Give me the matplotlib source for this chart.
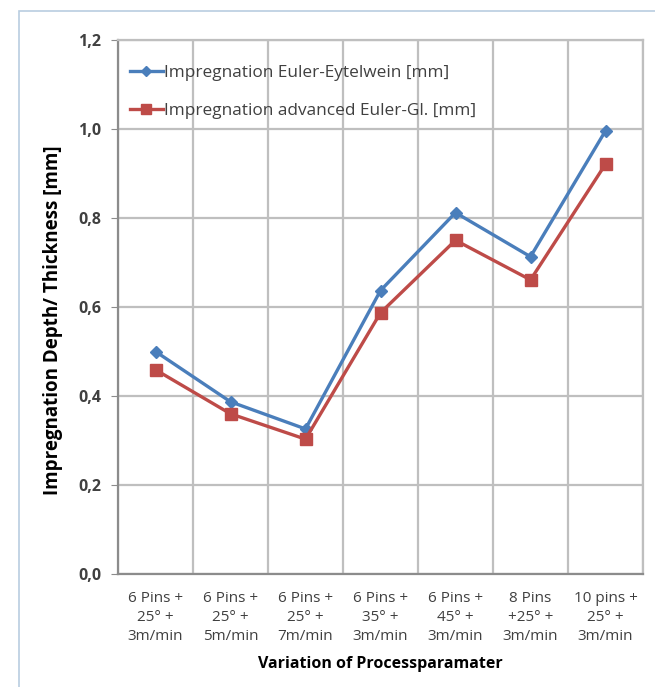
import numpy as np
import matplotlib.pyplot as plt
from matplotlib.patches import Rectangle
from matplotlib.ticker import FuncFormatter, MultipleLocator

plt.rcParams['font.family'] = ['Open Sans', 'DejaVu Sans']

# data
categories = ["6 Pins +\n25° +\n3m/min", "6 Pins +\n25° +\n5m/min", "6 Pins +\n25° +\n7m/min",
              "6 Pins +\n35° +\n3m/min", "6 Pins +\n45° +\n3m/min", "8 Pins\n+25° +\n3m/min",
              "10 pins +\n25° +\n3m/min"]
euler = [0.50, 0.387, 0.326, 0.637, 0.812, 0.713, 0.996]
advanced = [0.459, 0.360, 0.303, 0.587, 0.750, 0.661, 0.921]
labels = ["Impregnation Euler-Eytelwein [mm]", "Impregnation advanced Euler-Gl. [mm]"]

fig = plt.figure(figsize=(6.55, 6.87), dpi=100)
# outer chart frame (only left/top visible)
fig.patches.append(Rectangle((19 / 655, -0.05), 1.0, 1.05 - 11 / 687, transform=fig.transFigure,
                             fill=False, edgecolor="#b9cde0", linewidth=1.2))

ax = fig.add_axes([118 / 655, 1 - 574 / 687, (643 - 118) / 655, (574 - 40) / 687])
x = np.arange(len(categories))
ax.plot(x, euler, color="#4a7ebb", lw=2.4, marker="D", ms=6, label=labels[0])
ax.plot(x, advanced, color="#be4b48", lw=2.4, marker="s", ms=8.5, label=labels[1])

ax.set_xlim(-0.5, len(categories) - 0.5)
ax.set_ylim(0, 1.2)
ax.yaxis.set_major_locator(MultipleLocator(0.2))
ax.yaxis.set_major_formatter(FuncFormatter(lambda v, p: f"{v:.1f}".replace(".", ",")))
ax.set_xticks(x)
ax.set_xticklabels(categories, fontsize=11, color="#404040", linespacing=1.4)
ax.set_xticks(np.arange(-0.5, len(categories)), minor=True)
ax.tick_params(axis="x", which="major", length=0, pad=12)
ax.tick_params(axis="x", which="minor", length=0)
ax.tick_params(axis="y", length=5, color="#8c8c8c", labelsize=11.5, labelcolor="#404040", pad=7)
for t in ax.get_yticklabels():
    t.set_fontweight("bold")
ax.grid(True, axis="y", which="major", color="#bfbfbf", lw=1.6)
ax.grid(True, axis="x", which="minor", color="#bfbfbf", lw=1.6)
for s in ax.spines.values():
    s.set_color("#bfbfbf")
    s.set_linewidth(1.6)
ax.spines["left"].set_color("#8c8c8c")
ax.spines["bottom"].set_color("#8c8c8c")
ax.set_axisbelow(True)

ax.set_ylabel("Impregnation Depth/ Thickness [mm]", fontsize=13.5, fontweight="bold")
ax.yaxis.set_label_coords(-0.105, 0.475)
ax.set_xlabel("Variation of Processparamater", fontsize=11.5, fontweight="bold", labelpad=8)

ax.legend(loc="upper left", bbox_to_anchor=(0.0, 0.975), frameon=False, fontsize=12.4,
          handlelength=1.9, handletextpad=0.1, labelspacing=1.25, borderaxespad=0.3,
          labelcolor="#404040", markerscale=0.85)

fig.savefig("out.png", dpi=100)
